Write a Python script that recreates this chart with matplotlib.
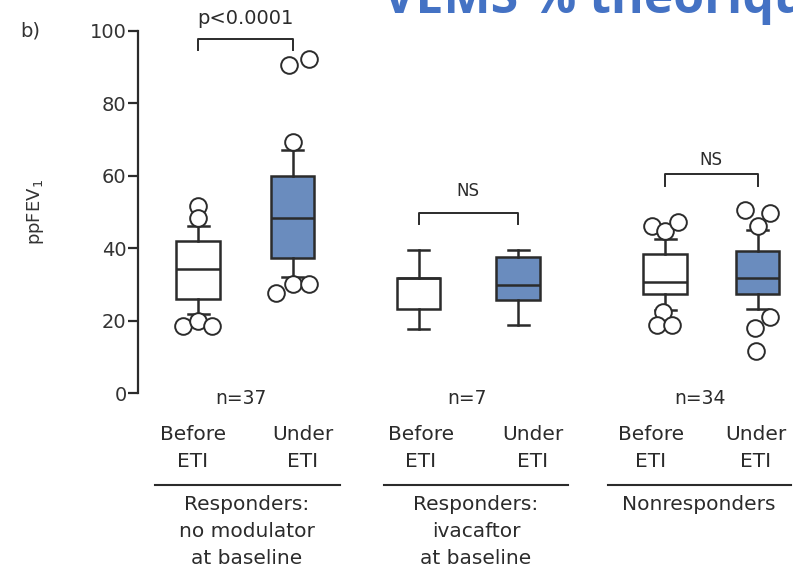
import matplotlib
matplotlib.use("Agg")
import matplotlib.pyplot as plt

plt.rcParams['font.family'] = ['DejaVu Sans']

# box statistics (ppFEV1)
medians = [34.3, 48.2, 31.7, 29.9, 30.6, 31.7]
q1s = [26.0, 37.3, 23.2, 25.8, 27.4, 27.4]
q3s = [42.1, 59.9, 31.9, 37.6, 38.4, 39.2]
whis_lo = [21.9, 32.0, 17.7, 18.9, 23.0, 23.2]
whis_hi = [46.2, 67.1, 39.6, 39.4, 42.6, 45.0]

# outliers per box
outliers = [
    [51.6, 48.2, 18.6, 20.0, 18.6],
    [69.3, 90.5, 92.1, 27.7, 30.0, 30.0],
    [],
    [],
    [46.1, 44.8, 47.1, 22.5, 18.8, 18.8],
    [50.5, 49.8, 46.1, 21.1, 17.9, 11.7],
]
# horizontal jitter of outlier circles (pixels)
jitter = [
    [0, 0, -15, 0, 14],
    [0, -4, 16, -17, 0, 16],
    [],
    [],
    [-13, 0, 13, -2, -8, 7],
    [-13, 12, 0, 12, -3, -2],
]

n_labels = ["n=37", "n=7", "n=34"]
cond_labels = ["Before\nETI", "Under\nETI"] * 3
group_labels = [["Responders:", "no modulator", "at baseline"],
                ["Responders:", "ivacaftor", "at baseline"],
                ["Nonresponders"]]
p_labels = ["p<0.0001", "NS", "NS"]
bracket_tops = [97.7, 49.8, 60.4]

# layout (pixel-like x units)
positions = [198, 292.5, 418.5, 518, 665, 757.5]
cond_x = [193, 303, 421, 533, 651, 756]
n_x = [241, 467, 700]
group_x = [247, 476, 699]
group_lines = [(155, 340), (384, 568), (608, 791)]
p_y = [103.2, 55.8, 64.3]
p_size = [14, 12, 12]

W, H = 793, 568
fig = plt.figure(figsize=(W / 100, H / 100), dpi=100)
ax = fig.add_axes([137.7 / W, 1 - 393.3 / H, 1 - 137.7 / W, (393.3 - 30.5) / H])

dark = "#2b2b2b"
blue = "#6a8cbe"

stats = []
for i in range(6):
    stats.append(dict(med=medians[i], q1=q1s[i], q3=q3s[i],
                      whislo=whis_lo[i], whishi=whis_hi[i], fliers=[]))
bp = ax.bxp(stats, positions=positions, widths=43.5, capwidths=21,
            patch_artist=True, showfliers=False,
            boxprops=dict(edgecolor=dark, linewidth=1.8),
            medianprops=dict(color=dark, linewidth=1.8),
            whiskerprops=dict(color=dark, linewidth=1.8),
            capprops=dict(color=dark, linewidth=1.8))
for i, patch in enumerate(bp['boxes']):
    patch.set_facecolor("white" if i % 2 == 0 else blue)

for i in range(6):
    xs = [positions[i] + j for j in jitter[i]]
    ax.plot(xs, outliers[i], 'o', ms=12, mfc='white', mec=dark,
            mew=1.4, ls='none', clip_on=False, zorder=4)

# brackets
for g in range(3):
    x0, x1 = positions[2 * g], positions[2 * g + 1]
    top = bracket_tops[g]
    ax.plot([x0, x0, x1, x1], [top - 3.2, top, top, top - 3.2], color=dark,
            lw=1.4, clip_on=False)
    ax.text((x0 + x1) / 2, p_y[g], p_labels[g], ha='center', va='center',
            fontsize=p_size[g], color=dark)

ax.set_xlim(137.7, W)
ax.set_ylim(0, 100)
ax.set_yticks(range(0, 101, 20))
ax.set_xticks([])
for s in ['top', 'right', 'bottom']:
    ax.spines[s].set_visible(False)
ax.spines['left'].set_linewidth(1.6)
ax.spines['left'].set_color(dark)
ax.tick_params(axis='y', length=7, width=1.6, color=dark, labelsize=14,
               labelcolor="#333333", pad=1)
ax.set_ylabel("ppFEV$_1$", fontsize=13, color="#333333")
ax.yaxis.set_label_coords((46 - 137.7) / (W - 137.7), 0.5)


def ypx(y):
    return (393.3 - y) / 3.628


for g in range(3):
    ax.text(n_x[g], ypx(398), n_labels[g], ha='center', va='center',
            fontsize=13.5, color=dark, clip_on=False)
    a, b = group_lines[g]
    ax.plot([a, b], [ypx(485), ypx(485)], color=dark, lw=1.5, clip_on=False)
    for k, line in enumerate(group_labels[g]):
        ax.text(group_x[g], ypx(505 + 26.5 * k), line, ha='center',
                va='center', fontsize=14.5, color=dark, clip_on=False)
for i in range(6):
    top, bot = cond_labels[i].split("\n")
    ax.text(cond_x[i], ypx(435), top, ha='center', va='center',
            fontsize=14.5, color=dark, clip_on=False)
    ax.text(cond_x[i], ypx(462), bot, ha='center', va='center',
            fontsize=14.5, color=dark, clip_on=False)

fig.text(30 / W, 1 - 31 / H, "b)", ha='center', va='center', fontsize=14,
         color="#333333")
fig.text(383 / W, 1 - 13 / H, "VEMS % théorique", ha='left',
         va='baseline', fontsize=36, fontweight='bold', color="#4472c4",
         family="Open Sans")

fig.savefig("out.png", dpi=100)
